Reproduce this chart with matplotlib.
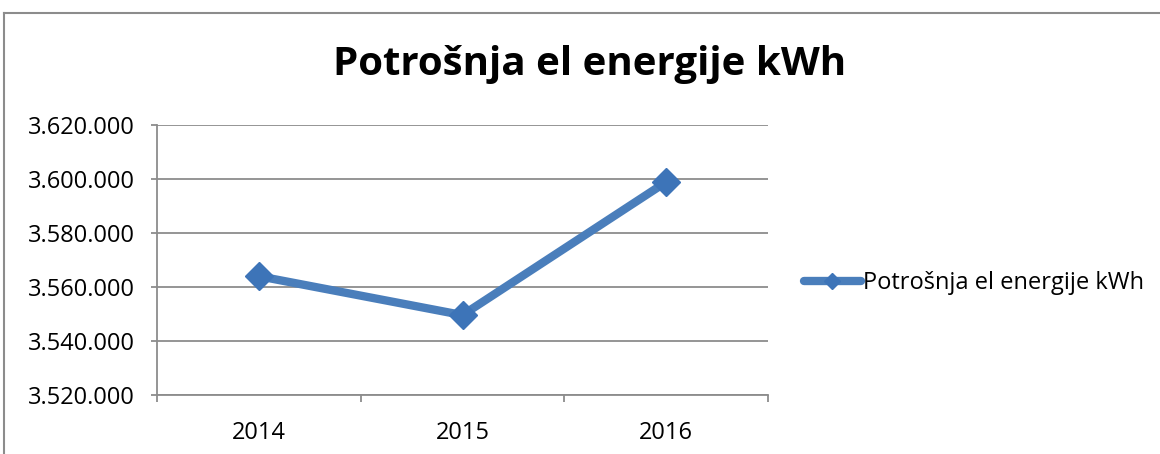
import matplotlib
matplotlib.use("Agg")
import matplotlib.pyplot as plt
from matplotlib.ticker import FuncFormatter, FixedLocator, NullFormatter
from matplotlib.lines import Line2D

years = ["2014", "2015", "2016"]
values = [3564000, 3549600, 3598900]
series_name = "Potrošnja el energije kWh"
title = "Potrošnja el energije kWh"
y_ticks = [3520000, 3540000, 3560000, 3580000, 3600000, 3620000]

plt.rcParams['font.family'] = ['Open Sans', 'DejaVu Sans']

W, H = 1160, 454
fig = plt.figure(figsize=(W / 100, H / 100), dpi=100)
fig.patch.set_facecolor("white")

# outer chart border (left and top visible)
border_col = "#8c8c8c"
fig.add_artist(Line2D([4 / W, 4 / W], [0, 1 - 13 / H], transform=fig.transFigure, color=border_col, lw=1.5))
fig.add_artist(Line2D([4 / W, 1], [1 - 13 / H, 1 - 13 / H], transform=fig.transFigure, color=border_col, lw=1.5))

ax = fig.add_axes([157 / W, 1 - 395 / H, (768 - 157) / W, (395 - 125) / H])
x = list(range(len(years)))
line_col = "#4a7ebb"
ax.plot(x, values, color=line_col, lw=6, marker="D", markersize=14,
        markerfacecolor="#3d74b8", markeredgecolor="#3d74b8", solid_capstyle="round",
        label=series_name, zorder=3)

ax.set_xlim(-0.5, len(years) - 0.5)
ax.set_ylim(y_ticks[0], y_ticks[-1])
ax.set_yticks(y_ticks)
ax.yaxis.set_major_formatter(FuncFormatter(lambda v, p: f"{int(round(v)):,}".replace(",", ".")))
ax.grid(axis="y", color="#8c8c8c", lw=1.3)
ax.set_axisbelow(True)

# x ticks at category boundaries, labels centered
ax.xaxis.set_major_locator(FixedLocator([i - 0.5 for i in range(len(years) + 1)]))
ax.xaxis.set_major_formatter(NullFormatter())
ax.xaxis.set_minor_locator(FixedLocator(x))
ax.set_xticklabels(years, minor=True)
ax.tick_params(axis="x", which="minor", length=0, pad=19, labelsize=17, labelcolor="black")
ax.tick_params(axis="x", which="major", length=5, width=1.3, color="#8c8c8c", direction="out")
ax.tick_params(axis="y", length=4, width=1.3, color="#8c8c8c", pad=12, labelsize=17, labelcolor="black")

for s in ["top", "right"]:
    ax.spines[s].set_visible(False)
for s in ["left", "bottom"]:
    ax.spines[s].set_color("#8c8c8c")
    ax.spines[s].set_linewidth(1.3)

fig.text(590 / W, 1 - 65 / H, title, ha="center", va="center", fontsize=29, fontweight="bold")

leg = ax.legend(loc="center left", bbox_to_anchor=(804 / W, 1 - 283 / H), bbox_transform=fig.transFigure,
                frameon=False, fontsize=17, handlelength=2.4, handletextpad=0.1, borderpad=0,
                borderaxespad=0, markerscale=0.6)

fig.savefig("out.png", dpi=100)
